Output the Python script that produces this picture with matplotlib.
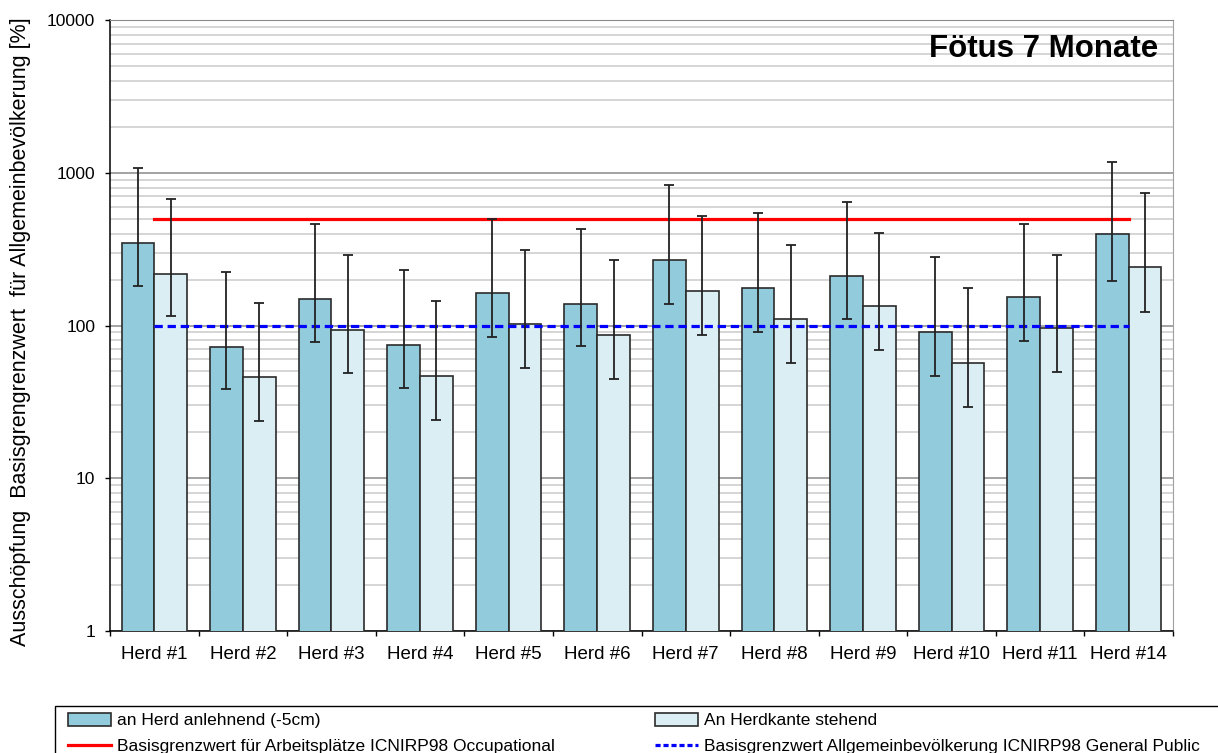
import numpy as np
import matplotlib
matplotlib.use("Agg")
import matplotlib.pyplot as plt
from matplotlib.patches import Patch, Rectangle
from matplotlib.lines import Line2D
from matplotlib.ticker import FixedLocator, NullFormatter, FixedFormatter

plt.rcParams['font.family'] = ['Liberation Sans', 'DejaVu Sans']

# Stove measurements
categories = ["Herd #1", "Herd #2", "Herd #3", "Herd #4", "Herd #5", "Herd #6",
              "Herd #7", "Herd #8", "Herd #9", "Herd #10", "Herd #11", "Herd #14"]

# Leaning against the stove (-5 cm)
lean_val = [345, 72.6, 150, 74.5, 162, 138, 268, 175, 212, 90.3, 153, 395]
lean_hi = [1069, 225, 464, 231, 500, 428, 831, 542, 643, 279, 462, 1175]
lean_lo = [182, 38.4, 77.6, 39.2, 83.7, 73, 138, 90.6, 110, 46.7, 79.2, 196]

# Standing at the stove edge
stand_val = [217, 45.8, 93.9, 46.7, 102, 87, 168, 110, 134, 56.8, 95.9, 243]
stand_hi = [670, 141, 291, 145, 313, 270, 521, 338, 405, 175, 290, 737]
stand_lo = [115, 23.7, 48.7, 24.2, 52.5, 44.9, 87, 56.8, 68.8, 29.3, 49.6, 123]

# Reference limits
limit_occupational = 500
limit_public = 100

y_ticks = [1, 10, 100, 1000, 10000]
y_tick_labels = ["1", "10", "100", "1000", "10000"]

fig = plt.figure(figsize=(12.18, 7.53), dpi=100)
ax = fig.add_axes([110 / 1218, 1 - 631 / 753, 1063 / 1218, 611 / 753])

x = np.arange(len(categories))
w = 0.37

lean_val_a = np.array(lean_val)
stand_val_a = np.array(stand_val)
lean_err = [lean_val_a - np.array(lean_lo), np.array(lean_hi) - lean_val_a]
stand_err = [stand_val_a - np.array(stand_lo), np.array(stand_hi) - stand_val_a]

c_lean = "#92CBDB"
c_stand = "#DBEEF4"
edge = "#2b2b2b"

ax.bar(x - w / 2, lean_val, width=w, color=c_lean, edgecolor=edge, linewidth=1.2, zorder=3)
ax.bar(x + w / 2, stand_val, width=w, color=c_stand, edgecolor=edge, linewidth=1.2, zorder=3)

ax.errorbar(x - w / 2, lean_val, yerr=lean_err, fmt='none', ecolor="#222222",
            elinewidth=1.3, capsize=3.3, capthick=1.3, zorder=5)
ax.errorbar(x + w / 2, stand_val, yerr=stand_err, fmt='none', ecolor="#222222",
            elinewidth=1.3, capsize=3.3, capthick=1.3, zorder=5)

ax.plot([x[0], x[-1]], [limit_occupational] * 2, color="#FF0000", lw=2.3, zorder=4)
ax.plot([x[0], x[-1]], [limit_public] * 2, color="#0000FF", lw=2.3,
        linestyle=(0, (2.6, 1.5)), zorder=4)

ax.set_yscale('log')
ax.set_ylim(1, 10000)
ax.set_xlim(-0.5, len(categories) - 0.5)

# grid
ax.yaxis.set_major_locator(FixedLocator(y_ticks))
ax.yaxis.set_major_formatter(FixedFormatter(y_tick_labels))
minor = [m * 10 ** e for e in range(0, 4) for m in range(2, 10)]
ax.yaxis.set_minor_locator(FixedLocator(minor))
ax.yaxis.set_minor_formatter(NullFormatter())
ax.grid(which='major', axis='y', color='#8a8a8a', lw=1.1, zorder=0)
ax.grid(which='minor', axis='y', color='#d2d2d2', lw=1.3, zorder=0)
ax.set_axisbelow(True)

ax.tick_params(axis='y', which='major', direction='out', length=3.6, width=1,
               color='black', pad=7, labelsize=12.5)
ax.tick_params(axis='y', which='minor', length=0)

# x ticks at group boundaries, labels centred under groups
ax.xaxis.set_major_locator(FixedLocator(np.arange(-0.5, len(categories), 1.0)))
ax.xaxis.set_major_formatter(NullFormatter())
ax.xaxis.set_minor_locator(FixedLocator(x))
ax.xaxis.set_minor_formatter(FixedFormatter(categories))
ax.tick_params(axis='x', which='major', direction='out', length=3.6, width=1, color='black')
ax.tick_params(axis='x', which='minor', length=0, pad=10.5, labelsize=13.5)

for s in ['left', 'bottom']:
    ax.spines[s].set_color('black')
    ax.spines[s].set_linewidth(1.1)
ax.spines['top'].set_color('#8a8a8a')
ax.spines['right'].set_color('#a0a0a0')

ax.set_ylabel("Ausschöpfung  Basisgrengrenzwert  für Allgemeinbevölkerung [%]", fontsize=15.5)
ax.yaxis.set_label_coords(-0.0743, 0.49)

ax.text(0.986, 0.9525, "Fötus 7 Monate", transform=ax.transAxes, ha='right', va='center',
        fontsize=22.5, fontweight='bold')

# legend box
fig.patches.append(Rectangle((55 / 1218, -0.05), 1.0, 0.05 + 1 - 706 / 753,
                             transform=fig.transFigure, facecolor='white',
                             edgecolor='black', lw=1.0))

h_lean = Patch(facecolor=c_lean, edgecolor=edge, lw=1.2)
h_stand = Patch(facecolor=c_stand, edgecolor=edge, lw=1.2)
h_occ = Line2D([], [], color="#FF0000", lw=2.3)
h_pub = Line2D([], [], color="#0000FF", lw=2.3, linestyle=(0, (1.6, 0.9)))

leg_kw = dict(frameon=False, fontsize=12.5, borderpad=0, borderaxespad=0,
              handlelength=2.5, handleheight=0.75, handletextpad=0.35,
              labelspacing=0.57, loc='upper left')
leg1 = fig.legend([h_lean, h_occ],
                  ["an Herd anlehnend (-5cm)",
                   "Basisgrenzwert für Arbeitsplätze ICNIRP98 Occupational"],
                  bbox_to_anchor=(68 / 1218, 1 - 713 / 753), **leg_kw)
leg2 = fig.legend([h_stand, h_pub],
                  ["An Herdkante stehend",
                   "Basisgrenzwert Allgemeinbevölkerung ICNIRP98 General Public"],
                  bbox_to_anchor=(655 / 1218, 1 - 713 / 753), **leg_kw)

fig.savefig("out.png", dpi=100)
